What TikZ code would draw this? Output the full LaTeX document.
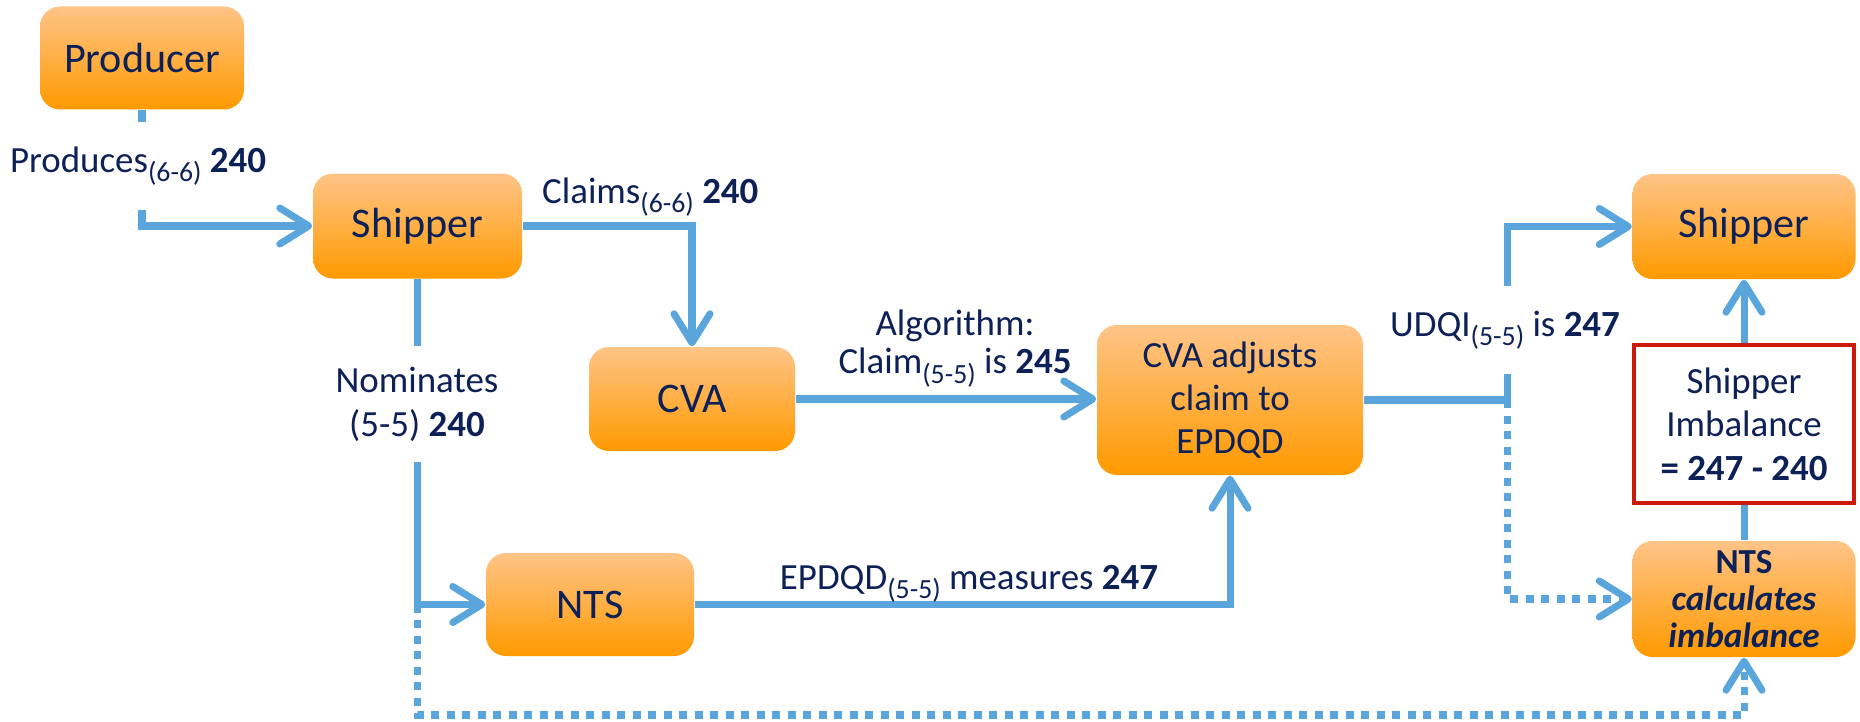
\documentclass[tikz,border=0pt]{standalone}
\usepackage{fontspec}
\setmainfont{Carlito}
\usetikzlibrary{arrows.meta,calc}

\definecolor{navy}{HTML}{0E2157}
\definecolor{flowblue}{HTML}{5AA6DC}
\definecolor{boxtop}{HTML}{FFC488}
\definecolor{boxbottom}{HTML}{FF9A00}
\definecolor{imbred}{HTML}{CC1A0A}

% day range under the text
\newcommand{\flowsub}[1]{\raisebox{-2.8pt}{\fontsize{7.9}{8}\selectfont #1}}

\tikzset{
	box/.style={rounded corners=2mm, top color=boxtop, bottom color=boxbottom, text=navy, align=center, inner sep=0pt, font=\fontsize{12}{14}\selectfont},
	link/.style={draw=flowblue, line width=2pt},
	flow/.style={link, -{Straight Barb[length=2.9mm,width=3.6mm,round]}},
	dots/.style={flow, dash pattern=on 0.8mm off 0.75mm},
	lbl/.style={text=navy, align=center, inner sep=1pt, font=\fontsize{10.5}{11}\selectfont},
}

\begin{document}
\begin{tikzpicture}
	\useasboundingbox (0,0) rectangle (18.6,7.21);

	% the boxes
	\node[box, minimum width=2.04cm, minimum height=1.03cm] (producer) at (1.42,6.63) {Producer};
	\node[box, minimum width=2.09cm, minimum height=1.05cm] (ship1) at (4.175,4.95) {Shipper};
	\node[box, minimum width=2.06cm, minimum height=1.04cm] (cva) at (6.92,3.22) {CVA};
	\node[box, minimum width=2.66cm, minimum height=1.50cm, font=\fontsize{10.5}{12.3}\selectfont] (adj) at (12.30,3.21) {CVA adjusts\\claim to\\EPDQD};
	\node[box, minimum width=2.08cm, minimum height=1.03cm] (nts) at (5.90,1.165) {NTS};
	\node[box, minimum width=2.23cm, minimum height=1.05cm] (ship2) at (17.44,4.945) {Shipper};
	\node[draw=imbred, line width=1.1pt, fill=white, text=navy, align=center, minimum width=2.20cm, minimum height=1.58cm, font=\fontsize{10.5}{12.4}\selectfont] (imb) at (17.44,2.97) {Shipper\\Imbalance\\\textbf{= 247 - 240}};
	\node[box, minimum width=2.23cm, minimum height=1.16cm, font=\fontsize{10}{10.6}\selectfont\bfseries] (ntscalc) at (17.44,1.22) {NTS\\\textit{calculates}\\\textit{imbalance}};

	% where the lines split
	\coordinate (nomcorner) at (ship1.south |- nts.west);
	\coordinate (split) at ($(adj.east)+(1.44,0)$);

	% the flows
	\draw[flow] (producer.south) |- (ship1.west);
	\draw[flow] (ship1.east) -| (cva.north);
	\draw[link] (ship1.south) -- (nomcorner);
	\draw[flow] (nomcorner) -- (nts.west);
	\draw[flow] (cva.east) -- (cva.east -| adj.west);
	\draw[flow] (nts.east) -| (adj.south);
	\draw[link] (adj.east) -- (split);
	\draw[flow] (split) |- (ship2.west);
	\draw[link] (ntscalc.north) -- (imb.south);
	\draw[flow] (imb.north) -- (ship2.south);

	% the dotted flows into the imbalance
	\draw[dots] (split) |- (ntscalc.west);
	\draw[dots] (nomcorner) -- ++(0,-1.105) -| (ntscalc.south);

	% labels on the flows
	\node[lbl, fill=white, inner ysep=7pt, anchor=base] (produces) at (1.38,5.49) {Produces\flowsub{(6-6)} \textbf{240}};
	\node[lbl, anchor=base west] (claims) at (5.38,5.18) {Claims\flowsub{(6-6)} \textbf{240}};
	\node[lbl, fill=white, inner ysep=6pt, font=\fontsize{10.5}{12.5}\selectfont] (nominates) at (4.17,3.17) {Nominates\\(5-5) \textbf{240}};
	\node[lbl, font=\fontsize{10.5}{10.8}\selectfont] (algorithm) at (9.55,3.72) {Algorithm:\\Claim\flowsub{(5-5)} is \textbf{245}};
	\node[lbl, anchor=base] (epdqd) at (9.69,1.32) {EPDQD\flowsub{(5-5)} measures \textbf{247}};
	\node[lbl, fill=white, inner ysep=7pt, anchor=base] (udqi) at (15.05,3.85) {UDQI\flowsub{(5-5)} is \textbf{247}};
\end{tikzpicture}
\end{document}
